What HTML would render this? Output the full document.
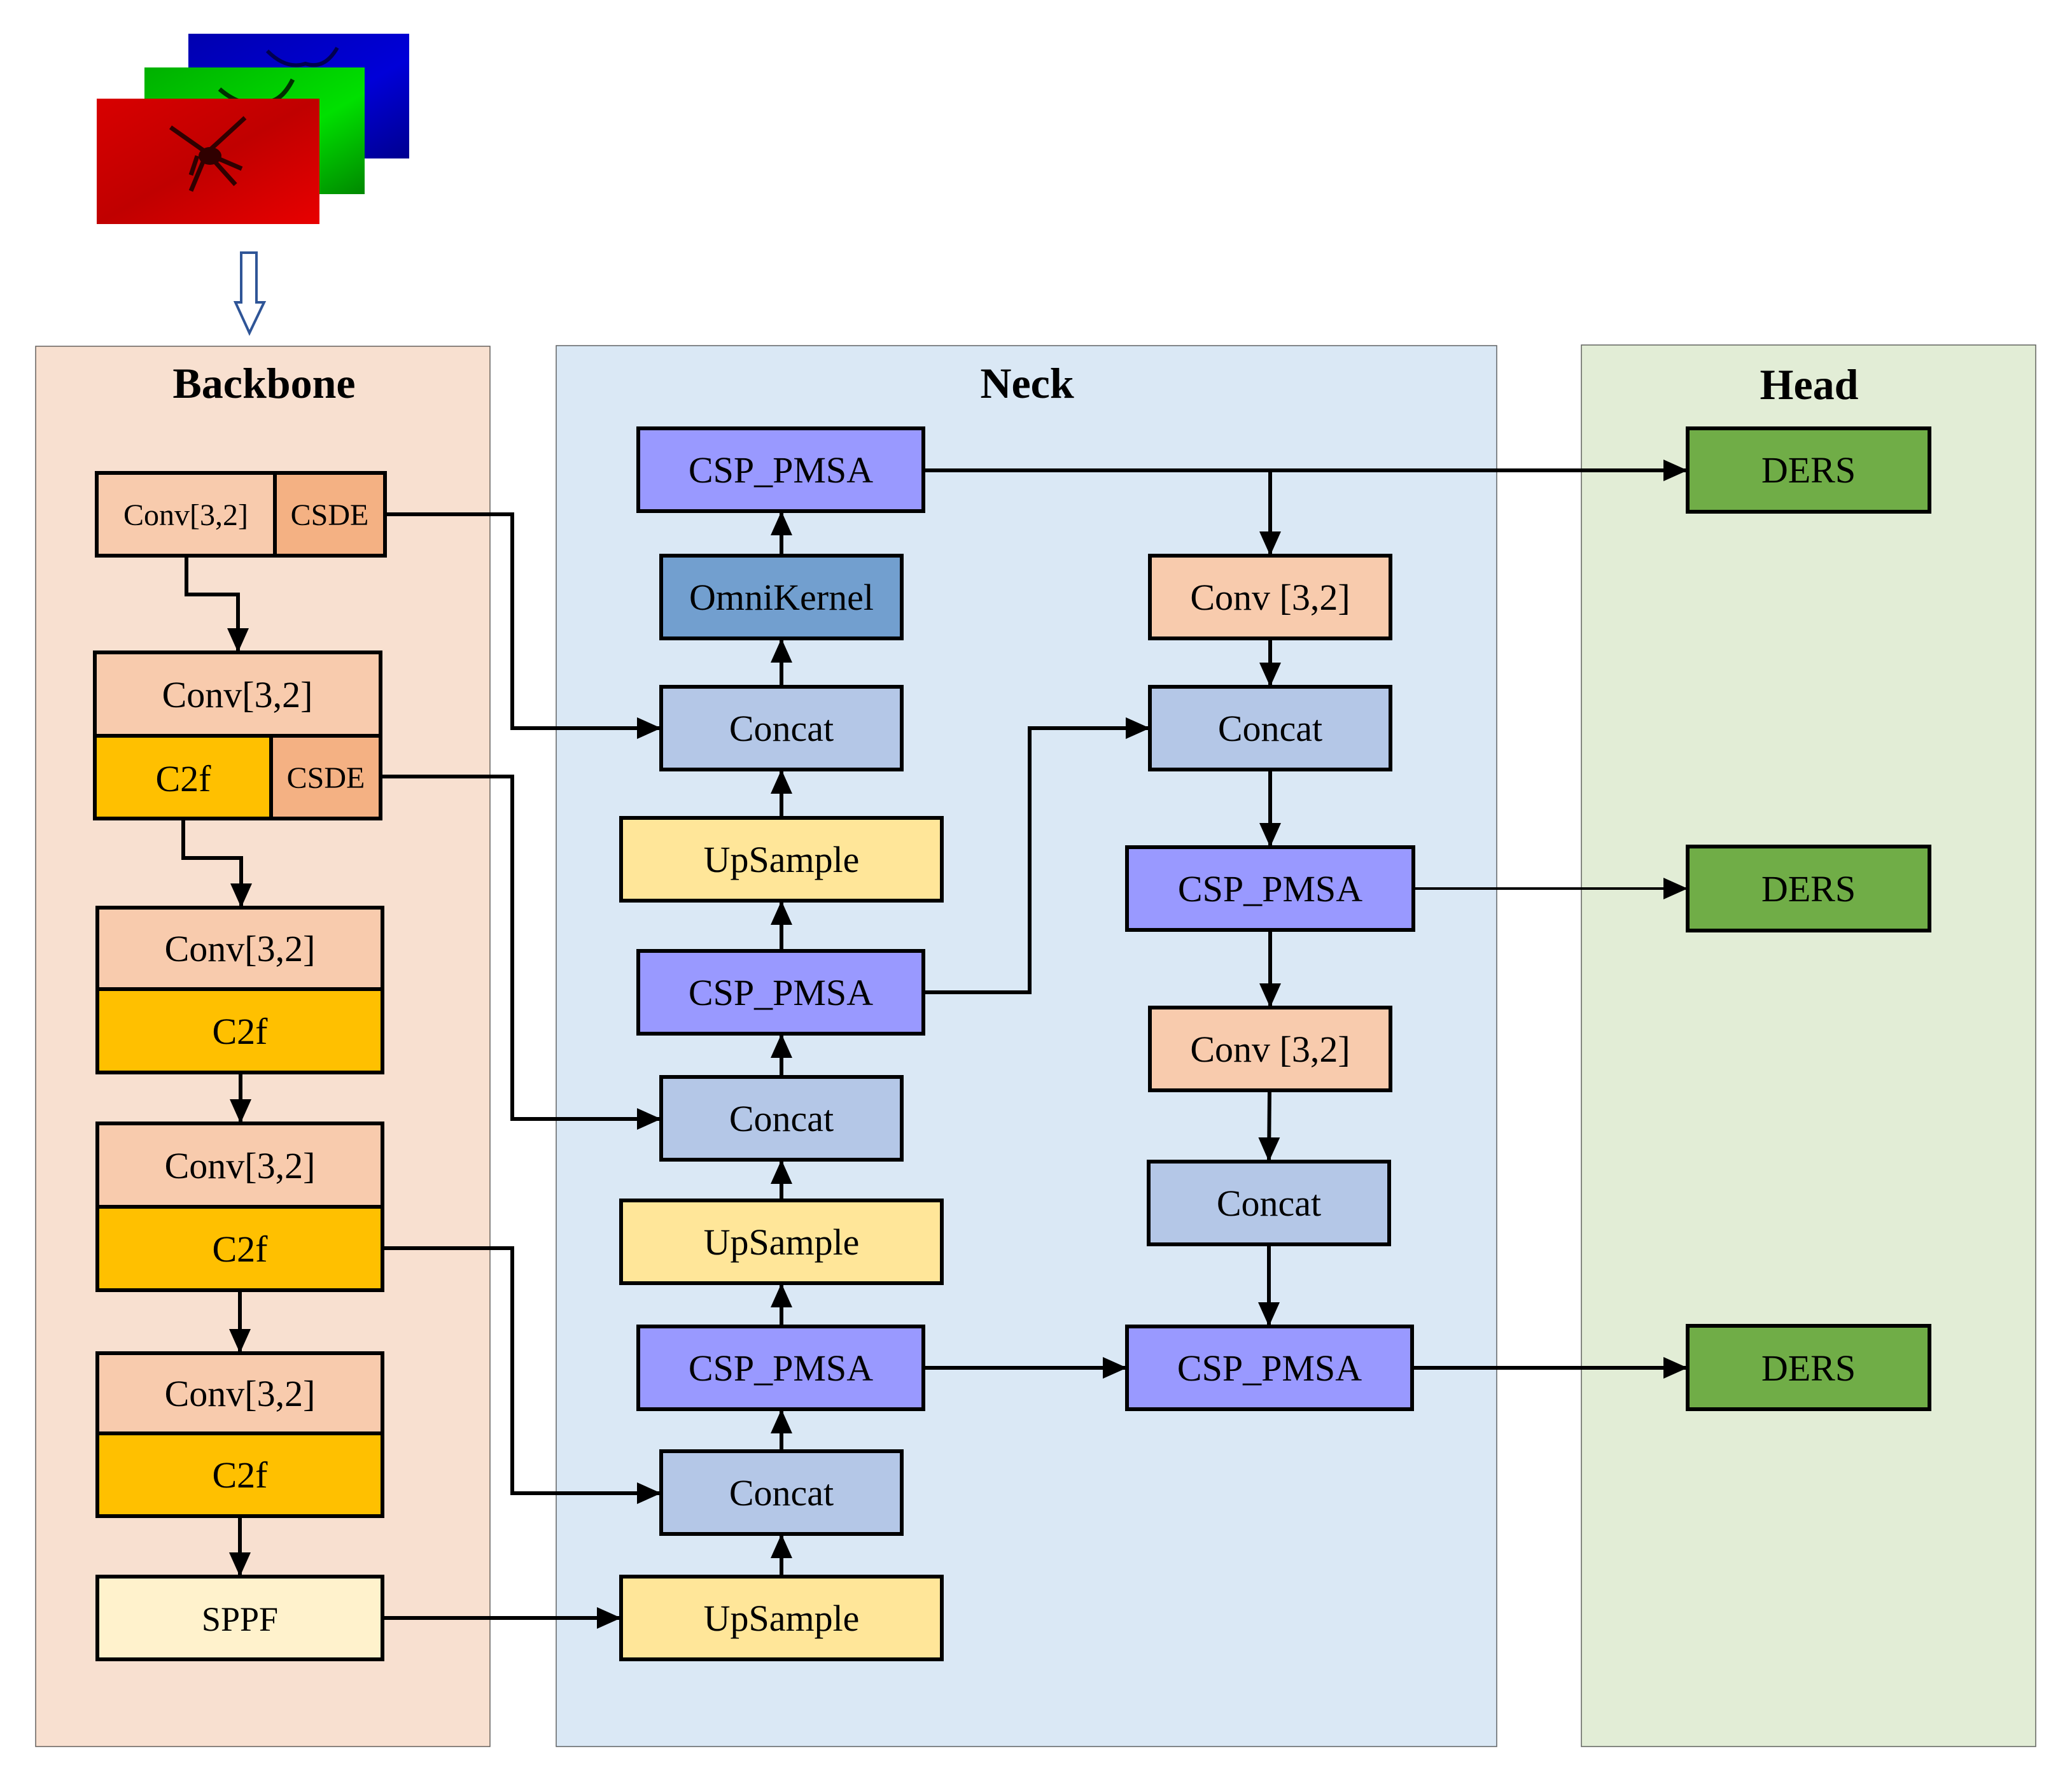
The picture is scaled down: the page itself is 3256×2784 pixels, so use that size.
<!DOCTYPE html>
<html><head><meta charset="utf-8"><style>
html,body{margin:0;padding:0;background:#fff}
svg{display:block}
text{font-family:"Liberation Serif",serif;fill:#000}
</style></head><body>
<svg width="3256" height="2784" viewBox="0 0 3256 2784" xmlns="http://www.w3.org/2000/svg">
<defs>
<marker id="a" markerUnits="userSpaceOnUse" markerWidth="40" markerHeight="36" refX="38" refY="17" orient="auto">
<path d="M0,0 L38,17 L0,34 Z" fill="#000"/>
</marker>
<linearGradient id="gr" x1="0" y1="0" x2="1" y2="1"><stop offset="0" stop-color="#d80000"/><stop offset="0.5" stop-color="#c00000"/><stop offset="1" stop-color="#e80000"/></linearGradient>
<linearGradient id="gg" x1="0" y1="0" x2="1" y2="1"><stop offset="0" stop-color="#00b000"/><stop offset="0.6" stop-color="#00e000"/><stop offset="1" stop-color="#008800"/></linearGradient>
<linearGradient id="gb" x1="0" y1="0" x2="1" y2="1"><stop offset="0" stop-color="#0000b0"/><stop offset="0.6" stop-color="#0000d8"/><stop offset="1" stop-color="#000090"/></linearGradient>
</defs>

<!-- input images -->
<rect x="296" y="53" width="347" height="196" fill="url(#gb)"/>
<path d="M420,80 Q450,110 480,100 Q510,110 530,75" stroke="#000050" stroke-width="6" fill="none"/>
<rect x="227" y="106" width="346" height="199" fill="url(#gg)"/>
<path d="M345,140 Q380,170 410,160 Q440,165 460,125" stroke="#003000" stroke-width="7" fill="none"/>
<rect x="152" y="155" width="350" height="197" fill="url(#gr)"/>
<g stroke="#300000" stroke-width="7" fill="none">
<path d="M268,200 L325,240 L385,185"/>
<path d="M325,240 L300,300"/><path d="M325,240 L370,290"/>
<path d="M310,245 L300,275"/><path d="M345,250 L380,265"/>
</g>
<ellipse cx="330" cy="245" rx="18" ry="14" fill="#300000"/>

<!-- hollow arrow -->
<path d="M379,397 L403,397 L403,475 L415,475 L392,523 L370,475 L379,475 Z" fill="#fff" stroke="#2F5597" stroke-width="4"/>

<!-- panels -->
<rect x="56" y="544" width="714" height="2200" fill="#F8E0D0" stroke="#000" stroke-width="1.5" stroke-opacity="0.6"/>
<rect x="874" y="543" width="1478" height="2201" fill="#DAE8F5" stroke="#000" stroke-width="1.5" stroke-opacity="0.6"/>
<rect x="2485" y="542" width="714" height="2202" fill="#E2EDD6" stroke="#000" stroke-width="1.5" stroke-opacity="0.6"/>

<text x="415" y="625" font-size="68" font-weight="bold" text-anchor="middle">Backbone</text>
<text x="1614" y="625" font-size="68" font-weight="bold" text-anchor="middle">Neck</text>
<text x="2843" y="627" font-size="68" font-weight="bold" text-anchor="middle">Head</text>

<!-- backbone boxes -->
<g stroke="#000" stroke-width="6">
<rect x="152" y="743" width="280" height="130" fill="#F8CBAD"/>
<rect x="432" y="743" width="173" height="130" fill="#F4B183"/>
<rect x="149" y="1025" width="449" height="131" fill="#F8CBAD"/>
<rect x="149" y="1156" width="277" height="130" fill="#FFC000"/>
<rect x="426" y="1156" width="172" height="130" fill="#F4B183"/>
<rect x="153" y="1426" width="448" height="128" fill="#F8CBAD"/>
<rect x="153" y="1554" width="448" height="131" fill="#FFC000"/>
<rect x="153" y="1765" width="448" height="131" fill="#F8CBAD"/>
<rect x="153" y="1896" width="448" height="131" fill="#FFC000"/>
<rect x="153" y="2126" width="448" height="126" fill="#F8CBAD"/>
<rect x="153" y="2252" width="448" height="130" fill="#FFC000"/>
<rect x="153" y="2477" width="448" height="130" fill="#FFF2CC"/>
</g>
<g font-size="48" text-anchor="middle">
<text x="292" y="825">Conv[3,2]</text>
<text x="518" y="825">CSDE</text>
<text x="512" y="1238">CSDE</text>
</g>
<g font-size="58" text-anchor="middle">
<text x="373" y="1111">Conv[3,2]</text>
<text x="288" y="1243">C2f</text>
<text x="377" y="1510">Conv[3,2]</text>
<text x="377" y="1640">C2f</text>
<text x="377" y="1851">Conv[3,2]</text>
<text x="377" y="1982">C2f</text>
<text x="377" y="2209">Conv[3,2]</text>
<text x="377" y="2337">C2f</text>
<text x="377" y="2562" font-size="54">SPPF</text>
</g>

<!-- neck boxes -->
<g stroke="#000" stroke-width="6">
<rect x="1003" y="673" width="448" height="130" fill="#9999FF"/>
<rect x="1039" y="873" width="378" height="130" fill="#729FCF"/>
<rect x="1039" y="1079" width="378" height="130" fill="#B4C7E7"/>
<rect x="976" y="1285" width="504" height="130" fill="#FFE699"/>
<rect x="1003" y="1494" width="448" height="130" fill="#9999FF"/>
<rect x="1039" y="1692" width="378" height="130" fill="#B4C7E7"/>
<rect x="976" y="1886" width="504" height="130" fill="#FFE699"/>
<rect x="1003" y="2084" width="448" height="130" fill="#9999FF"/>
<rect x="1039" y="2280" width="378" height="130" fill="#B4C7E7"/>
<rect x="976" y="2477" width="504" height="130" fill="#FFE699"/>
<rect x="1807" y="873" width="378" height="130" fill="#F8CBAD"/>
<rect x="1807" y="1079" width="378" height="130" fill="#B4C7E7"/>
<rect x="1771" y="1331" width="450" height="130" fill="#9999FF"/>
<rect x="1807" y="1583" width="378" height="130" fill="#F8CBAD"/>
<rect x="1805" y="1825" width="378" height="130" fill="#B4C7E7"/>
<rect x="1771" y="2084" width="448" height="130" fill="#9999FF"/>
<rect x="2652" y="673" width="380" height="131" fill="#70AD47"/>
<rect x="2652" y="1330" width="380" height="132" fill="#70AD47"/>
<rect x="2652" y="2083" width="380" height="131" fill="#70AD47"/>
</g>
<g font-size="58" text-anchor="middle">
<text x="1227" y="758">CSP_PMSA</text>
<text x="1228" y="958">OmniKernel</text>
<text x="1228" y="1164">Concat</text>
<text x="1228" y="1370">UpSample</text>
<text x="1227" y="1579">CSP_PMSA</text>
<text x="1228" y="1777">Concat</text>
<text x="1228" y="1971">UpSample</text>
<text x="1227" y="2169">CSP_PMSA</text>
<text x="1228" y="2365">Concat</text>
<text x="1228" y="2562">UpSample</text>
<text x="1996" y="958">Conv [3,2]</text>
<text x="1996" y="1164">Concat</text>
<text x="1996" y="1416">CSP_PMSA</text>
<text x="1996" y="1668">Conv [3,2]</text>
<text x="1994" y="1910">Concat</text>
<text x="1995" y="2169">CSP_PMSA</text>
<text x="2842" y="758">DERS</text>
<text x="2842" y="1416">DERS</text>
<text x="2842" y="2169">DERS</text>
</g>

<!-- connectors -->
<g stroke="#000" stroke-width="6" fill="none">
<path d="M293,873 L293,934 L374,934 L374,1025" marker-end="url(#a)"/>
<path d="M288,1286 L288,1348 L379,1348 L379,1426" marker-end="url(#a)"/>
<path d="M378,1685 L378,1765" marker-end="url(#a)"/>
<path d="M377,2027 L377,2126" marker-end="url(#a)"/>
<path d="M377,2382 L377,2477" marker-end="url(#a)"/>
<path d="M605,808 L805,808 L805,1144 L1039,1144" marker-end="url(#a)"/>
<path d="M598,1220 L805,1220 L805,1758 L1039,1758" marker-end="url(#a)"/>
<path d="M601,1961 L805,1961 L805,2346 L1039,2346" marker-end="url(#a)"/>
<path d="M601,2542 L976,2542" marker-end="url(#a)"/>
<path d="M1228,2477 L1228,2410" marker-end="url(#a)"/>
<path d="M1228,2280 L1228,2214" marker-end="url(#a)"/>
<path d="M1228,2084 L1228,2016" marker-end="url(#a)"/>
<path d="M1228,1886 L1228,1822" marker-end="url(#a)"/>
<path d="M1228,1692 L1228,1624" marker-end="url(#a)"/>
<path d="M1228,1494 L1228,1415" marker-end="url(#a)"/>
<path d="M1228,1285 L1228,1209" marker-end="url(#a)"/>
<path d="M1228,1079 L1228,1003" marker-end="url(#a)"/>
<path d="M1228,873 L1228,803" marker-end="url(#a)"/>
<path d="M1451,739 L2652,739" marker-end="url(#a)"/>
<path d="M1996,739 L1996,873" marker-end="url(#a)"/>
<path d="M1996,1003 L1996,1079" marker-end="url(#a)"/>
<path d="M1996,1209 L1996,1331" marker-end="url(#a)"/>
<path d="M1996,1461 L1996,1583" marker-end="url(#a)"/>
<path d="M1995,1713 L1994,1825" marker-end="url(#a)"/>
<path d="M1994,1955 L1994,2084" marker-end="url(#a)"/>
<path d="M1451,1559 L1618,1559 L1618,1144 L1807,1144" marker-end="url(#a)"/>
<path d="M1451,2149 L1771,2149" marker-end="url(#a)"/>
<path d="M2221,1396 L2652,1396" stroke-width="4" marker-end="url(#a)"/>
<path d="M2219,2149 L2652,2149" marker-end="url(#a)"/>
</g>
</svg>
</body></html>
